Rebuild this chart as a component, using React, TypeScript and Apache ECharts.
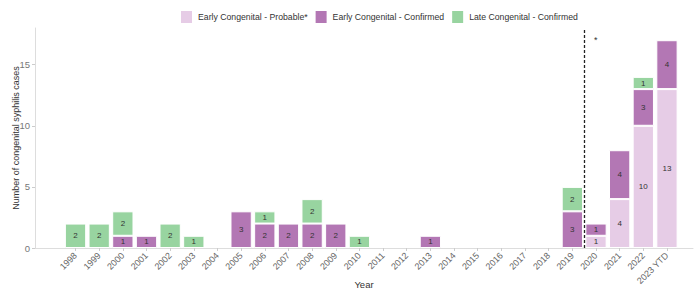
import React, { useEffect, useRef } from "react";
import * as echarts from "echarts";

const years = ["1998","1999","2000","2001","2002","2003","2004","2005","2006","2007","2008","2009","2010","2011","2012","2013","2014","2015","2016","2017","2018","2019","2020","2021","2022","2023 YTD"];
const earlyProbable = [null,null,null,null,null,null,null,null,null,null,null,null,null,null,null,null,null,null,null,null,null,null,1,4,10,13];
const earlyConfirmed = [null,null,1,1,null,null,null,3,2,2,2,2,null,null,null,1,null,null,null,null,null,3,1,4,3,4];
const lateConfirmed = [2,2,2,null,2,1,null,null,1,null,2,null,1,null,null,null,null,null,null,null,null,2,null,null,1,null];
const yMax = 18;
const xMin = 1996.29;
const xMax = 2024.1;
const dividerYear = 2019.5;

const FONT = "'Liberation Sans', Arial, sans-serif";

export default function App() {
  const ref = useRef<HTMLDivElement>(null);
  useEffect(() => {
    const chart = echarts.init(ref.current!, null, { renderer: "svg" });
    const label = { show: true, position: "inside", fontSize: 8, color: "#333", fontFamily: FONT };
    const mk = (name: string, data: any[], color: string) => ({
      name, type: "bar", stack: "total", data, xAxisIndex: 0, yAxisIndex: 0,
      barCategoryGap: "10%",
      itemStyle: { color, borderColor: "#fff", borderWidth: 1 },
      label,
    });
    chart.setOption({
      animation: false,
      textStyle: { fontFamily: FONT },
      legend: {
        top: 9, left: 179, padding: 0, itemWidth: 13, itemHeight: 14, icon: "rect", itemGap: 6,
        textStyle: { fontSize: 8.7, color: "#333", fontFamily: FONT },
        data: ["Early Congenital - Probable*", "Early Congenital - Confirmed", "Late Congenital - Confirmed"],
      },
      grid: [
        { left: 63.7, right: 19.2, top: 28, bottom: 42, outerBoundsMode: "none", containLabel: false },
        { left: 35, right: 5, top: 28, bottom: 42, outerBoundsMode: "none", containLabel: false },
      ],
      xAxis: [
        {
          type: "category", gridIndex: 0, data: years,
          axisLine: { show: false },
          axisTick: { show: true, length: 3, lineStyle: { color: "#ccc" }, alignWithLabel: true },
          axisLabel: { rotate: 45, fontSize: 9, color: "#666", margin: 6, interval: 0, fontFamily: FONT },
        },
        {
          type: "value", gridIndex: 1, min: xMin, max: xMax,
          axisLine: { show: true, lineStyle: { color: "#ddd" } },
          axisTick: { show: false }, axisLabel: { show: false }, splitLine: { show: false },
          name: "Year", nameLocation: "middle", nameGap: 31, nameMoveOverlap: false,
          nameTextStyle: { fontSize: 9.5, color: "#333", fontFamily: FONT },
        },
      ],
      yAxis: [
        { type: "value", gridIndex: 0, min: 0, max: yMax, show: false, splitLine: { show: false } },
        {
          type: "value", gridIndex: 1, min: 0, max: yMax, interval: 5,
          axisLine: { show: true, lineStyle: { color: "#ddd" } },
          axisTick: { show: true, length: 3, lineStyle: { color: "#ccc" } },
          axisLabel: { fontSize: 9.5, color: "#777", margin: 5, showMaxLabel: false, fontFamily: FONT },
          splitLine: { show: false },
          name: "Number of congenital syphilis cases", nameLocation: "middle", nameGap: 15,
          nameMoveOverlap: false,
          nameTextStyle: { fontSize: 9, color: "#333", fontFamily: FONT },
        },
      ],
      series: [
        mk("Early Congenital - Probable*", earlyProbable, "#e6cce6"),
        mk("Early Congenital - Confirmed", earlyConfirmed, "#b377b4"),
        mk("Late Congenital - Confirmed", lateConfirmed, "#98d4a0"),
        {
          type: "line", xAxisIndex: 1, yAxisIndex: 1, data: [],
          markLine: {
            silent: true, symbol: "none",
            lineStyle: { color: "#222", type: [3, 2], width: 1.3 },
            label: { show: false },
            data: [{ xAxis: dividerYear }],
          },
        },
      ],
      graphic: [
        { type: "text", left: 594, top: 35, style: { text: "*", fontSize: 9, fill: "#333", fontFamily: FONT } },
      ],
    });
    return () => chart.dispose();
  }, []);
  return <div ref={ref} style={{ position: "absolute", left: 0, top: 0, width: 698, height: 290 }} />;
}
